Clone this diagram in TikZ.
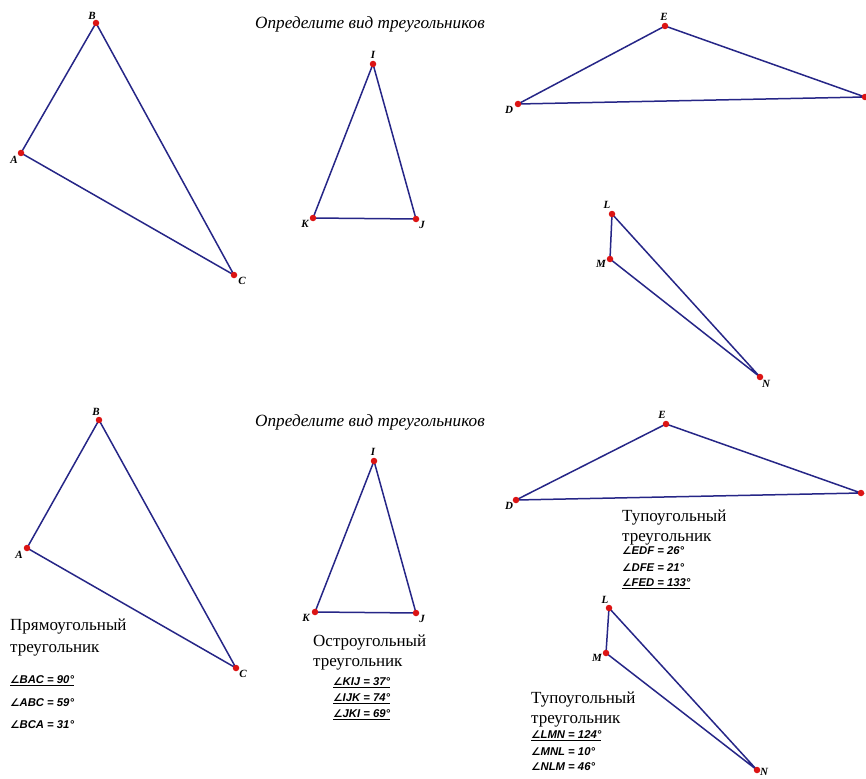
\documentclass[tikz,border=0pt]{standalone}
\usepackage{fontspec}
\setmainfont{Liberation Serif}
\setsansfont{Liberation Sans}
\newfontfamily\djv{DejaVu Sans}
\definecolor{edge}{RGB}{38,38,135}
\definecolor{pt}{RGB}{220,20,20}
\newcommand{\ang}{{\djv\fontsize{10.5}{10}\selectfont\itshape ∠}}
\tikzset{
  side/.style={draw=edge, line width=1.5pt},
  dot/.style={circle, fill=pt, inner sep=0pt, minimum size=6.5pt},
  lab/.style={font=\fontsize{11}{11}\selectfont\bfseries\itshape, inner sep=0pt},
  title/.style={font=\fontsize{17.2}{17}\selectfont\itshape, inner sep=0pt},
  kind/.style={font=\fontsize{17}{20}\selectfont, align=left, inner sep=0pt, anchor=north west},
  angl/.style={font=\sffamily\fontsize{11.3}{11}\selectfont\bfseries\itshape, inner sep=0pt, anchor=west}
}
\begin{document}
\begin{tikzpicture}[x=1pt,y=-1pt]
\useasboundingbox (0,0) rectangle (866,778);
\fill[white] (0,0) rectangle (866,778);
% ---------- top half ----------
\node[title] (t1) at (370,24) {Определите вид треугольников};
\coordinate (A1) at (21,153); \coordinate (B1) at (96,23); \coordinate (C1) at (234,275);
\draw[side] (A1) -- (B1) -- (C1) -- cycle;
\coordinate (I1) at (373,64); \coordinate (K1) at (313,218); \coordinate (J1) at (416,219);
\draw[side] (I1) -- (K1) -- (J1) -- cycle;
\coordinate (E1) at (665,26); \coordinate (D1) at (518,104); \coordinate (F1) at (865,97);
\draw[side] (D1) -- (E1) -- (F1) -- cycle;
\coordinate (L1) at (612,214); \coordinate (M1) at (610,259); \coordinate (N1) at (760,377);
\draw[side] (L1) -- (M1) -- (N1) -- cycle;
\foreach \p in {A1,B1,C1,I1,K1,J1,E1,D1,F1,L1,M1,N1} \node[dot] at (\p) {};
\node[lab] (lA1) at (14,160) {A};
\node[lab] (lB1) at (92,16) {B};
\node[lab] (lC1) at (242,281) {C};
\node[lab] (lI1) at (373,55) {I};
\node[lab] (lK1) at (305,224) {K};
\node[lab] (lJ1) at (422,225) {J};
\node[lab] (lE1) at (664,17) {E};
\node[lab] (lD1) at (509,110) {D};
\node[lab] (lL1) at (607,205) {L};
\node[lab] (lM1) at (601,264) {M};
\node[lab] (lN1) at (766,384) {N};
% ---------- bottom half ----------
\node[title] (t2) at (370,422) {Определите вид треугольников};
\coordinate (A2) at (27,548); \coordinate (B2) at (99,420); \coordinate (C2) at (236,668);
\draw[side] (A2) -- (B2) -- (C2) -- cycle;
\coordinate (I2) at (374,461); \coordinate (K2) at (315,612); \coordinate (J2) at (416,613);
\draw[side] (I2) -- (K2) -- (J2) -- cycle;
\coordinate (E2) at (666,424); \coordinate (D2) at (516,500); \coordinate (F2) at (861,493);
\draw[side] (D2) -- (E2) -- (F2) -- cycle;
\coordinate (L2) at (609,608); \coordinate (M2) at (606,653); \coordinate (N2) at (757,770);
\draw[side] (L2) -- (M2) -- (N2) -- cycle;
\foreach \p in {A2,B2,C2,I2,K2,J2,E2,D2,F2,L2,M2,N2} \node[dot] at (\p) {};
\node[lab] (lA2) at (19,555) {A};
\node[lab] (lB2) at (96,412) {B};
\node[lab] (lC2) at (243,674) {C};
\node[lab] (lI2) at (373,452) {I};
\node[lab] (lK2) at (306,618) {K};
\node[lab] (lJ2) at (422,619) {J};
\node[lab] (lE2) at (662,415) {E};
\node[lab] (lD2) at (509,506) {D};
\node[lab] (lL2) at (605,600) {L};
\node[lab] (lM2) at (597,658) {M};
\node[lab] (lN2) at (764,772) {N};
% ---------- answers ----------
\node[kind, font=\fontsize{17}{22}\selectfont] (k1) at (10,619) {Прямоугольный\\треугольник};
\node[angl] (a11) at (10,681) {\underline{\ang BAC = 90°}};
\node[angl] (a12) at (10,703) {\ang ABC = 59°};
\node[angl] (a13) at (10,725) {\ang BCA = 31°};
\node[kind] (k2) at (313,635) {Остроугольный\\треугольник};
\node[angl] (a21) at (333,683) {\underline{\ang KIJ = 37°}};
\node[angl] (a22) at (333,699) {\underline{\ang IJK = 74°}};
\node[angl] (a23) at (333,715) {\underline{\ang JKI = 69°}};
\node[kind] (k3) at (622,510) {Тупоугольный\\треугольник};
\node[angl] (a31) at (622,551) {\ang EDF = 26°};
\node[angl] (a32) at (622,568) {\ang DFE = 21°};
\node[angl] (a33) at (622,584) {\underline{\ang FED = 133°}};
\node[kind] (k4) at (531,692) {Тупоугольный\\треугольник};
\node[angl] (a41) at (531,736) {\underline{\ang LMN = 124°}};
\node[angl] (a42) at (531,752) {\ang MNL = 10°};
\node[angl] (a43) at (531,767) {\ang NLM = 46°};
\end{tikzpicture}
\end{document}
